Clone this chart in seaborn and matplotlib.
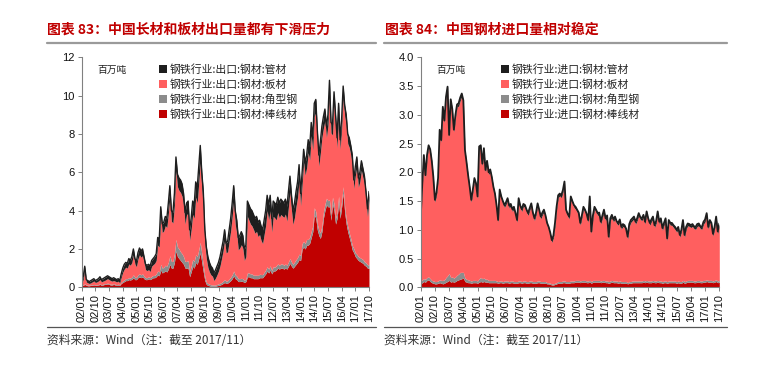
import numpy as np
import pandas as pd
import matplotlib
matplotlib.use("Agg")
import matplotlib.pyplot as plt
import seaborn as sns
from matplotlib.lines import Line2D
from matplotlib.patches import Patch

# ---------------- data (monthly, 2002-01 .. 2017-10), 百万吨 ----------------
months = pd.date_range("2002-01-01", "2017-10-01", freq="MS")
tick_labels = ["02/01", "02/10", "03/07", "04/04", "05/01", "05/10", "06/07", "07/04",
               "08/01", "08/10", "09/07", "10/04", "11/01", "11/10", "12/07", "13/04",
               "14/01", "14/10", "15/07", "16/04", "17/01", "17/10"]

# exports: total (top of stack), and layers
exp_total = [
    0.30, 0.55, 1.10, 0.40, 0.35, 0.30, 0.35, 0.40, 0.45, 0.35, 0.40, 0.45,
    0.55, 0.40, 0.45, 0.50, 0.55, 0.60, 0.55, 0.50, 0.45, 0.50, 0.45, 0.40,
    0.45, 0.35, 0.70, 1.00, 1.20, 1.30, 1.25, 1.50, 1.40, 1.60, 2.00, 1.50,
    1.35, 1.80, 2.05, 1.90, 2.00, 1.60, 1.20, 1.15, 1.20, 1.10, 1.40, 1.50,
    1.60, 1.75, 2.60, 2.50, 4.20, 3.30, 3.40, 3.70, 3.60, 4.40, 5.30, 4.00,
    3.90, 4.90, 6.80, 5.90, 5.70, 5.60, 5.40, 4.90, 3.90, 4.40, 4.50, 3.00,
    3.60, 4.50, 4.30, 5.50, 5.20, 6.30, 7.40, 6.00, 5.00, 3.00, 2.10, 1.60,
    1.30, 1.10, 1.00, 0.75, 0.90, 1.10, 1.30, 1.60, 2.00, 2.40, 3.00, 2.30,
    2.40, 3.00, 3.60, 4.40, 5.30, 4.00, 3.50, 2.60, 2.70, 2.90, 2.70, 2.00,
    2.20, 4.50, 4.30, 4.10, 4.00, 3.80, 3.60, 3.70, 3.40, 3.50, 3.20, 3.00,
    3.50, 4.00, 4.80, 4.30, 4.80, 3.60, 4.50, 4.40, 4.30, 4.70, 4.40, 4.60,
    4.50, 4.40, 4.60, 4.20, 5.00, 5.80, 4.80, 4.00, 4.40, 5.00, 5.50, 6.40,
    4.90, 6.00, 7.20, 6.50, 6.90, 7.70, 7.30, 8.60, 7.80, 9.60, 9.80, 8.20,
    6.90, 7.60, 8.40, 8.90, 9.30, 8.40, 9.00, 10.80, 8.60, 8.50, 10.20, 9.00,
    7.80, 9.60, 7.70, 8.80, 10.50, 9.50, 9.00, 8.00, 7.80, 7.40, 6.90, 5.60,
    6.30, 6.80, 5.70, 6.00, 6.60, 6.20, 5.80, 5.00, 4.10, 5.00]
exp_rebar = [
    0.08, 0.10, 0.15, 0.10, 0.08, 0.08, 0.10, 0.10, 0.12, 0.10, 0.10, 0.12,
    0.15, 0.10, 0.12, 0.15, 0.15, 0.18, 0.15, 0.12, 0.12, 0.15, 0.12, 0.10,
    0.12, 0.10, 0.20, 0.25, 0.30, 0.35, 0.35, 0.40, 0.38, 0.42, 0.50, 0.40,
    0.40, 0.50, 0.55, 0.50, 0.55, 0.45, 0.40, 0.40, 0.45, 0.40, 0.45, 0.50,
    0.50, 0.55, 0.65, 0.60, 0.90, 0.75, 0.80, 0.85, 0.80, 0.95, 1.20, 1.00,
    1.00, 1.30, 1.90, 1.60, 1.50, 1.40, 1.30, 1.20, 1.00, 1.00, 1.00, 0.55,
    0.80, 1.10, 1.00, 1.30, 1.20, 1.50, 1.80, 1.30, 0.80, 0.35, 0.15, 0.10,
    0.08, 0.05, 0.05, 0.05, 0.06, 0.08, 0.10, 0.12, 0.15, 0.20, 0.25, 0.20,
    0.22, 0.28, 0.35, 0.45, 0.60, 0.45, 0.40, 0.30, 0.30, 0.32, 0.30, 0.25,
    0.30, 0.55, 0.55, 0.50, 0.50, 0.45, 0.45, 0.45, 0.45, 0.50, 0.50, 0.50,
    0.60, 0.70, 0.85, 0.75, 0.90, 0.70, 0.85, 0.85, 0.90, 1.00, 0.95, 1.00,
    1.00, 0.95, 1.00, 0.95, 1.10, 1.25, 1.10, 1.00, 1.10, 1.20, 1.30, 1.45,
    1.40, 2.00, 2.10, 2.00, 2.20, 2.20, 2.30, 2.60, 2.90, 3.80, 3.60, 3.00,
    2.70, 2.55, 2.90, 3.60, 4.00, 4.30, 4.20, 4.20, 3.50, 4.35, 4.00, 3.30,
    3.60, 4.40, 3.60, 4.20, 4.90, 3.90, 3.30, 2.90, 2.60, 2.30, 1.95, 1.80,
    1.60, 1.50, 1.40, 1.35, 1.30, 1.25, 1.15, 1.10, 1.00, 1.00]
exp_angle = [
    0.03, 0.03, 0.04, 0.03, 0.03, 0.03, 0.03, 0.03, 0.03, 0.03, 0.03, 0.03,
    0.04, 0.03, 0.04, 0.04, 0.04, 0.04, 0.04, 0.04, 0.04, 0.04, 0.04, 0.04,
    0.04, 0.04, 0.06, 0.08, 0.08, 0.10, 0.10, 0.10, 0.10, 0.12, 0.15, 0.12,
    0.12, 0.15, 0.15, 0.15, 0.15, 0.12, 0.10, 0.10, 0.10, 0.10, 0.12, 0.12,
    0.12, 0.15, 0.20, 0.20, 0.30, 0.25, 0.25, 0.30, 0.30, 0.35, 0.45, 0.35,
    0.35, 0.45, 0.60, 0.50, 0.50, 0.45, 0.45, 0.40, 0.35, 0.35, 0.40, 0.25,
    0.30, 0.35, 0.35, 0.40, 0.40, 0.45, 0.55, 0.45, 0.35, 0.20, 0.12, 0.10,
    0.08, 0.08, 0.07, 0.06, 0.06, 0.07, 0.08, 0.09, 0.10, 0.12, 0.15, 0.12,
    0.12, 0.15, 0.18, 0.20, 0.25, 0.20, 0.18, 0.15, 0.15, 0.15, 0.15, 0.12,
    0.12, 0.20, 0.20, 0.20, 0.20, 0.18, 0.18, 0.18, 0.17, 0.18, 0.17, 0.16,
    0.18, 0.20, 0.22, 0.20, 0.22, 0.18, 0.22, 0.20, 0.22, 0.22, 0.20, 0.22,
    0.22, 0.20, 0.22, 0.20, 0.22, 0.25, 0.22, 0.20, 0.22, 0.24, 0.25, 0.28,
    0.25, 0.28, 0.30, 0.28, 0.30, 0.30, 0.30, 0.32, 0.30, 0.35, 0.35, 0.30,
    0.28, 0.28, 0.30, 0.32, 0.32, 0.35, 0.32, 0.35, 0.30, 0.35, 0.35, 0.30,
    0.30, 0.35, 0.30, 0.32, 0.35, 0.30, 0.28, 0.28, 0.25, 0.25, 0.22, 0.22,
    0.20, 0.22, 0.20, 0.20, 0.20, 0.20, 0.18, 0.18, 0.17, 0.18]
exp_pipe = [
    0.10, 0.15, 0.20, 0.12, 0.12, 0.10, 0.12, 0.12, 0.12, 0.10, 0.12, 0.12,
    0.15, 0.12, 0.13, 0.15, 0.15, 0.15, 0.15, 0.15, 0.13, 0.15, 0.13, 0.12,
    0.13, 0.12, 0.18, 0.22, 0.25, 0.25, 0.25, 0.28, 0.25, 0.30, 0.32, 0.28,
    0.28, 0.32, 0.35, 0.33, 0.35, 0.30, 0.28, 0.28, 0.28, 0.28, 0.30, 0.32,
    0.35, 0.35, 0.40, 0.40, 0.50, 0.45, 0.45, 0.48, 0.48, 0.55, 0.60, 0.55,
    0.55, 0.60, 0.70, 0.65, 0.65, 0.65, 0.65, 0.62, 0.60, 0.60, 0.65, 0.55,
    0.60, 0.70, 0.70, 0.80, 0.80, 0.85, 0.90, 0.85, 0.80, 0.70, 0.60, 0.55,
    0.50, 0.45, 0.42, 0.40, 0.42, 0.45, 0.45, 0.48, 0.50, 0.50, 0.55, 0.50,
    0.55, 0.60, 0.65, 0.70, 0.75, 0.70, 0.70, 0.65, 0.65, 0.68, 0.65, 0.60,
    0.60, 0.80, 0.80, 0.80, 0.80, 0.78, 0.78, 0.78, 0.75, 0.75, 0.75, 0.72,
    0.75, 0.78, 0.80, 0.78, 0.80, 0.72, 0.80, 0.78, 0.78, 0.80, 0.78, 0.80,
    0.78, 0.75, 0.78, 0.75, 0.80, 0.82, 0.78, 0.72, 0.75, 0.78, 0.80, 0.82,
    0.65, 0.65, 0.68, 0.65, 0.65, 0.68, 0.65, 0.68, 0.65, 0.68, 0.68, 0.62,
    0.58, 0.60, 0.60, 0.60, 0.60, 0.58, 0.58, 0.60, 0.55, 0.55, 0.58, 0.55,
    0.52, 0.58, 0.50, 0.52, 0.58, 0.55, 0.52, 0.50, 0.50, 0.50, 0.48, 0.45,
    0.48, 0.52, 0.48, 0.48, 0.50, 0.48, 0.46, 0.46, 0.42, 0.46]

# imports: total (top of stack), and layers
imp_total = [
    1.20, 1.80, 2.30, 1.95, 2.30, 2.47, 2.40, 2.20, 1.92, 1.52, 1.65, 1.90,
    2.74, 2.56, 3.14, 2.90, 3.31, 3.49, 2.65, 3.27, 3.10, 2.74, 3.00, 3.18,
    3.20, 3.30, 3.37, 3.25, 2.39, 2.18, 1.95, 1.75, 1.52, 1.70, 1.90, 1.81,
    1.58, 2.45, 2.47, 2.15, 2.42, 2.04, 2.20, 2.00, 2.05, 1.92, 1.75, 1.63,
    1.43, 1.17, 1.70, 1.58, 1.50, 1.43, 1.48, 1.55, 1.42, 1.45, 1.36, 1.40,
    1.29, 1.17, 1.55, 1.42, 1.36, 1.45, 1.43, 1.35, 1.29, 1.38, 1.46, 1.30,
    1.20, 1.30, 1.46, 1.35, 1.23, 1.30, 1.35, 1.25, 1.12, 1.05, 0.95, 0.82,
    0.90, 1.12, 1.40, 1.60, 1.63, 1.60, 1.69, 1.84, 1.35, 1.28, 1.23, 1.58,
    1.50, 1.43, 1.40, 1.35, 1.30, 1.12, 1.25, 1.40, 1.35, 1.28, 1.17, 1.58,
    0.97, 1.25, 1.40, 1.35, 1.29, 1.30, 1.14, 1.25, 1.35, 1.20, 1.25, 0.88,
    1.20, 1.26, 1.18, 1.23, 1.15, 1.12, 1.18, 1.05, 1.10, 1.08, 1.02, 0.88,
    1.10, 1.17, 1.20, 1.23, 1.14, 1.20, 1.29, 1.22, 1.20, 1.26, 1.14, 1.32,
    1.20, 1.12, 1.18, 1.23, 1.08, 1.15, 1.32, 1.14, 1.20, 1.03, 1.12, 1.20,
    0.85, 1.17, 1.12, 1.12, 1.08, 1.05, 1.00, 1.05, 0.91, 1.00, 1.17, 0.91,
    1.05, 1.11, 1.10, 1.08, 1.10, 1.06, 1.05, 1.10, 1.11, 1.06, 1.05, 1.14,
    1.18, 1.29, 1.05, 1.17, 1.12, 0.93, 1.05, 1.23, 0.97, 1.11]
imp_rebar = [
    0.06, 0.08, 0.10, 0.09, 0.12, 0.13, 0.10, 0.08, 0.07, 0.06, 0.06, 0.07,
    0.08, 0.07, 0.06, 0.07, 0.09, 0.10, 0.12, 0.09, 0.10, 0.09, 0.10, 0.12,
    0.13, 0.14, 0.15, 0.16, 0.10, 0.09, 0.08, 0.08, 0.07, 0.08, 0.08, 0.08,
    0.07, 0.09, 0.10, 0.09, 0.10, 0.09, 0.09, 0.08, 0.08, 0.08, 0.08, 0.08,
    0.08, 0.07, 0.08, 0.08, 0.07, 0.08, 0.08, 0.08, 0.07, 0.08, 0.08, 0.07,
    0.07, 0.07, 0.08, 0.08, 0.07, 0.08, 0.08, 0.07, 0.07, 0.08, 0.08, 0.07,
    0.07, 0.07, 0.08, 0.08, 0.07, 0.07, 0.07, 0.07, 0.06, 0.06, 0.05, 0.04,
    0.04, 0.05, 0.06, 0.07, 0.07, 0.07, 0.08, 0.08, 0.07, 0.07, 0.07, 0.08,
    0.08, 0.08, 0.09, 0.09, 0.09, 0.08, 0.09, 0.09, 0.09, 0.08, 0.08, 0.09,
    0.07, 0.09, 0.09, 0.09, 0.09, 0.09, 0.08, 0.09, 0.09, 0.08, 0.08, 0.07,
    0.08, 0.09, 0.08, 0.08, 0.08, 0.07, 0.08, 0.07, 0.07, 0.07, 0.07, 0.06,
    0.07, 0.07, 0.08, 0.08, 0.08, 0.08, 0.08, 0.08, 0.08, 0.09, 0.08, 0.09,
    0.08, 0.08, 0.08, 0.09, 0.08, 0.08, 0.09, 0.08, 0.08, 0.07, 0.08, 0.08,
    0.07, 0.08, 0.08, 0.08, 0.08, 0.08, 0.07, 0.08, 0.07, 0.07, 0.09, 0.07,
    0.08, 0.09, 0.09, 0.09, 0.09, 0.08, 0.08, 0.09, 0.09, 0.08, 0.08, 0.09,
    0.09, 0.10, 0.09, 0.09, 0.09, 0.08, 0.09, 0.10, 0.08, 0.09]
imp_angle = [
    0.04, 0.05, 0.05, 0.05, 0.05, 0.05, 0.05, 0.04, 0.04, 0.04, 0.04, 0.04,
    0.05, 0.05, 0.06, 0.06, 0.08, 0.10, 0.12, 0.08, 0.08, 0.07, 0.08, 0.09,
    0.10, 0.12, 0.11, 0.10, 0.06, 0.05, 0.05, 0.04, 0.04, 0.04, 0.04, 0.04,
    0.04, 0.06, 0.07, 0.06, 0.06, 0.05, 0.05, 0.04, 0.04, 0.04, 0.04, 0.04,
    0.03, 0.03, 0.03, 0.03, 0.03, 0.03, 0.03, 0.03, 0.03, 0.03, 0.03, 0.03,
    0.03, 0.03, 0.03, 0.03, 0.03, 0.03, 0.03, 0.03, 0.03, 0.03, 0.03, 0.03,
    0.03, 0.03, 0.03, 0.03, 0.03, 0.03, 0.03, 0.03, 0.02, 0.02, 0.02, 0.02,
    0.02, 0.02, 0.02, 0.03, 0.03, 0.03, 0.03, 0.03, 0.03, 0.03, 0.03, 0.03,
    0.03, 0.03, 0.03, 0.03, 0.03, 0.03, 0.03, 0.03, 0.03, 0.03, 0.03, 0.03,
    0.03, 0.03, 0.03, 0.03, 0.03, 0.03, 0.03, 0.03, 0.03, 0.03, 0.03, 0.03,
    0.03, 0.03, 0.03, 0.03, 0.03, 0.03, 0.03, 0.03, 0.03, 0.03, 0.03, 0.02,
    0.03, 0.03, 0.03, 0.03, 0.03, 0.03, 0.03, 0.03, 0.03, 0.03, 0.03, 0.03,
    0.03, 0.03, 0.03, 0.03, 0.03, 0.03, 0.03, 0.03, 0.03, 0.03, 0.03, 0.03,
    0.03, 0.03, 0.03, 0.03, 0.03, 0.03, 0.03, 0.03, 0.03, 0.03, 0.03, 0.03,
    0.03, 0.03, 0.03, 0.03, 0.03, 0.03, 0.03, 0.03, 0.03, 0.03, 0.03, 0.03,
    0.03, 0.03, 0.03, 0.03, 0.03, 0.03, 0.03, 0.03, 0.03, 0.03]
imp_pipe = [
    0.04, 0.04, 0.04, 0.04, 0.04, 0.04, 0.04, 0.04, 0.04, 0.04, 0.04, 0.04,
    0.04, 0.04, 0.04, 0.04, 0.04, 0.05, 0.04, 0.04, 0.04, 0.04, 0.04, 0.04,
    0.05, 0.05, 0.05, 0.05, 0.04, 0.04, 0.04, 0.04, 0.04, 0.04, 0.04, 0.04,
    0.04, 0.05, 0.05, 0.04, 0.05, 0.04, 0.04, 0.04, 0.04, 0.04, 0.04, 0.04,
    0.04, 0.04, 0.04, 0.04, 0.04, 0.04, 0.04, 0.04, 0.04, 0.04, 0.04, 0.04,
    0.04, 0.04, 0.04, 0.04, 0.04, 0.04, 0.04, 0.04, 0.04, 0.04, 0.04, 0.04,
    0.04, 0.04, 0.04, 0.04, 0.04, 0.04, 0.04, 0.04, 0.04, 0.04, 0.04, 0.04,
    0.04, 0.04, 0.04, 0.04, 0.04, 0.04, 0.04, 0.04, 0.04, 0.04, 0.04, 0.04,
    0.04, 0.04, 0.04, 0.04, 0.04, 0.04, 0.04, 0.04, 0.04, 0.04, 0.04, 0.04,
    0.04, 0.04, 0.04, 0.04, 0.04, 0.04, 0.04, 0.04, 0.04, 0.04, 0.04, 0.04,
    0.04, 0.04, 0.04, 0.04, 0.04, 0.04, 0.04, 0.04, 0.04, 0.04, 0.04, 0.04,
    0.04, 0.04, 0.04, 0.04, 0.04, 0.04, 0.04, 0.04, 0.04, 0.04, 0.04, 0.04,
    0.04, 0.04, 0.04, 0.04, 0.04, 0.04, 0.04, 0.04, 0.04, 0.04, 0.04, 0.04,
    0.04, 0.04, 0.04, 0.04, 0.04, 0.04, 0.04, 0.04, 0.04, 0.04, 0.04, 0.04,
    0.04, 0.04, 0.04, 0.04, 0.04, 0.04, 0.04, 0.04, 0.04, 0.04, 0.04, 0.04,
    0.04, 0.04, 0.04, 0.04, 0.04, 0.04, 0.04, 0.04, 0.04, 0.04]

exp_names = ["钢铁行业:出口:钢材:棒线材", "钢铁行业:出口:钢材:角型钢",
             "钢铁行业:出口:钢材:板材", "钢铁行业:出口:钢材:管材"]
imp_names = ["钢铁行业:进口:钢材:棒线材", "钢铁行业:进口:钢材:角型钢",
             "钢铁行业:进口:钢材:板材", "钢铁行业:进口:钢材:管材"]

# ---------------- style ----------------
sns.set_theme(style="ticks")
plt.rcParams["font.family"] = ["Liberation Sans", "Noto Sans CJK SC", "DejaVu Sans"]
CJK = ["Noto Sans CJK SC", "DejaVu Sans"]
layer_colors = ["#C00000", "#8C8C8C", "#FF5F5F", "#1E1E1E"]

W, H = 759, 377
fig = plt.figure(figsize=(W / 100, H / 100), dpi=100)
fig.patch.set_facecolor("white")


def fx(x):
    return x / W


def fy(y):
    return 1 - y / H


def panel(x0, x1, total, rebar, angle, pipe, names, ymax, ystep, fmt, edge_lw):
    ax = fig.add_axes([fx(x0), fy(287.3), fx(x1) - fx(x0), fy(57.3) - fy(287.3)])
    df = pd.DataFrame({"month": months, "total": total, "rebar": rebar,
                       "angle": angle, "pipe": pipe})
    df["plate"] = df["total"] - df["rebar"] - df["angle"] - df["pipe"]
    df["idx"] = np.arange(len(df))
    ax.stackplot(df["idx"], df["rebar"], df["angle"], df["plate"], df["pipe"],
                 colors=layer_colors, linewidth=0)
    # dark outline along the top of the stack (edge of the 管材 layer)
    sns.lineplot(data=df, x="idx", y="total", ax=ax, color=layer_colors[3],
                 linewidth=edge_lw, legend=False)
    ax.set_xlabel("")
    ax.set_ylabel("")
    ax.set_xlim(0, len(df) - 1)
    ax.set_ylim(0, ymax)
    ax.set_facecolor("white")
    ax.grid(False)
    sns.despine(ax=ax, top=True, right=True)
    ax.spines["left"].set_color("#808080")
    ax.spines["left"].set_linewidth(0.8)
    ax.spines["bottom"].set_color("#808080")
    ax.spines["bottom"].set_linewidth(0.8)
    labels_all = list(months.strftime("%y/%m"))
    pos = [labels_all.index(t) for t in tick_labels]
    ax.set_xticks(pos)
    ax.set_xticklabels(tick_labels, rotation=90, fontsize=8, color="#111111")
    yt = np.arange(0, ymax + 1e-9, ystep)
    ax.set_yticks(yt)
    ax.set_yticklabels([fmt.format(v) for v in yt], fontsize=8, color="#111111")
    ax.tick_params(axis="both", direction="out", length=3, width=0.7,
                   color="#808080", pad=2)
    ax.text(0.053, 0.945, "百万吨", transform=ax.transAxes, fontsize=7,
            family=CJK, color="#222222", va="center", ha="left")
    handles = [Patch(facecolor=layer_colors[i], edgecolor="none") for i in [3, 2, 1, 0]]
    leg = ax.legend(handles, [names[i] for i in [3, 2, 1, 0]],
                    loc="upper left", bbox_to_anchor=(0.27, 0.97),
                    frameon=False, prop={"family": CJK, "size": 7.8},
                    handlelength=0.7, handleheight=0.7, handletextpad=0.3,
                    labelspacing=0.38, borderaxespad=0, borderpad=0)
    for t in leg.get_texts():
        t.set_color("#222222")
    return ax


panel(81.7, 369.0, exp_total, exp_rebar, exp_angle, exp_pipe, exp_names,
      12, 2, "{:.0f}", 1.0)
panel(420.7, 719.3, imp_total, imp_rebar, imp_angle, imp_pipe, imp_names,
      4.0, 0.5, "{:.1f}", 1.3)

# titles
fig.text(fx(47), fy(29.5), "图表 83：中国长材和板材出口量都有下滑压力", fontsize=10,
         family=CJK, fontweight="bold", color="#C00000", va="center", ha="left")
fig.text(fx(385), fy(29.5), "图表 84：中国钢材进口量相对稳定", fontsize=10,
         family=CJK, fontweight="bold", color="#C00000", va="center", ha="left")

# separator lines
for (a, b) in [(47, 376), (384, 727)]:
    fig.add_artist(Line2D([fx(a), fx(b)], [fy(42.7), fy(42.7)], color="#9A9A9A",
                          linewidth=1.6, transform=fig.transFigure))
    fig.add_artist(Line2D([fx(a), fx(b)], [fy(326.5), fy(326.5)], color="#555555",
                          linewidth=0.9, transform=fig.transFigure))

# sources
for x in [47, 384]:
    fig.text(fx(x), fy(341), "资料来源：Wind（注：截至 2017/11）", fontsize=8.5,
             family=CJK, color="#333333", va="center", ha="left")

fig.savefig("out.png", dpi=100, facecolor="white")
